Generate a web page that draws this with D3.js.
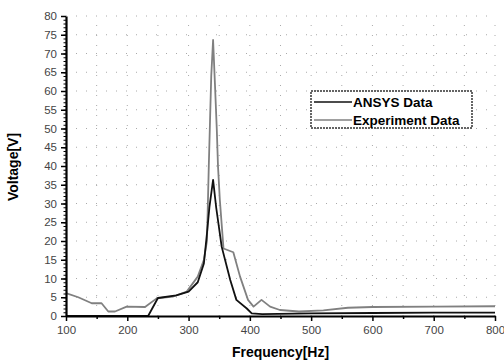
<!DOCTYPE html>
<html>
<head>
<meta charset="utf-8">
<script src="https://cdn.jsdelivr.net/npm/d3@7"></script>
<style>
  body { margin: 0; background: #fff; }
  text { font-family: "Liberation Sans", Arial, sans-serif; }
</style>
</head>
<body>
<div id="chart"></div>
<script>
// frequency / voltage readings taken off the scanned figure
const ansysFreq = [100, 234, 250, 280, 300, 315, 325, 330, 334, 340, 345, 354, 368, 378, 395, 403, 420, 500, 600, 700, 800];
const ansysVolt = [0, 0, 4.8, 5.5, 6.5, 9, 14, 22, 29, 36.3, 29, 18.5, 9.6, 4.3, 2, 0.7, 0.5, 0.7, 0.8, 0.9, 0.9];

const expFreq = [100, 120, 142, 158, 169, 180, 199, 229, 248, 275, 297, 315, 325, 330, 333, 335, 337, 340, 343, 346, 348, 351, 357, 373, 384, 397, 406, 419, 433, 449, 480, 520, 560, 600, 700, 800];
const expVolt = [6.1, 5, 3.4, 3.4, 1.2, 1.2, 2.5, 2.4, 4.7, 5.2, 6.5, 10.5, 15, 20, 40, 52, 64, 73.6, 62, 50, 40, 31, 18, 17, 10.5, 4.3, 2.5, 4.3, 2.5, 1.6, 1.2, 1.5, 2.2, 2.4, 2.5, 2.6];

const xTicks = [100, 200, 300, 400, 500, 600, 700, 800];
const yTicks = [0, 5, 10, 15, 20, 25, 30, 35, 40, 45, 50, 55, 60, 65, 70, 75, 80];
const legendNames = ["ANSYS Data", "Experiment Data"];

const width = 504, height = 361;
const margin = {top: 16, right: 9, bottom: 45, left: 66};

const svg = d3.select('#chart')
    .append('svg')
    .attr('width', width)
    .attr('height', height);

const x = d3.scaleLinear().domain([100, 800]).range([margin.left, width - margin.right]);
const y = d3.scaleLinear().domain([0, 80]).range([height - margin.bottom, margin.top]);

// faint dotted grid (scan leftovers)
const grid = svg.append('g').attr('stroke', '#aaa').attr('stroke-dasharray', '1,9').attr('stroke-width', 1);
grid.selectAll('line.h').data(d3.range(5, 81, 5)).join('line')
    .attr('x1', x(100)).attr('x2', x(800))
    .attr('y1', d => y(d)).attr('y2', d => y(d));
grid.selectAll('line.v').data(d3.range(150, 801, 50)).join('line')
    .attr('x1', d => x(d)).attr('x2', d => x(d))
    .attr('y1', y(0)).attr('y2', y(80));

// series
const line = d3.line()
    .x(d => x(d[0]))
    .y(d => y(d[1]));

svg.append('path')
    .datum(d3.zip(expFreq, expVolt))
    .attr('fill', 'none')
    .attr('stroke', '#808080')
    .attr('stroke-width', 1.8)
    .attr('stroke-linejoin', 'round')
    .attr('d', line);

svg.append('path')
    .datum(d3.zip(ansysFreq, ansysVolt))
    .attr('fill', 'none')
    .attr('stroke', '#111')
    .attr('stroke-width', 1.8)
    .attr('stroke-linejoin', 'round')
    .attr('d', line);

// minor ticks
svg.append('g')
    .attr('transform', `translate(${margin.left},0)`)
    .call(d3.axisLeft(y).tickValues(d3.range(0, 81, 1)).tickSize(2.5).tickFormat(''))
    .call(g => g.select('.domain').remove())
    .selectAll('line').attr('stroke', '#000');
svg.append('g')
    .attr('transform', `translate(0,${y(0)})`)
    .call(d3.axisBottom(x).tickValues(d3.range(150, 800, 100)).tickSize(3).tickFormat(''))
    .call(g => g.select('.domain').remove())
    .selectAll('line').attr('stroke', '#000').attr('stroke-width', 1.5);

// main axes
const yAxis = svg.append('g')
    .attr('transform', `translate(${margin.left},0)`)
    .call(d3.axisLeft(y).tickValues(yTicks).tickSize(5).tickSizeOuter(0).tickPadding(4));
const xAxis = svg.append('g')
    .attr('transform', `translate(0,${y(0)})`)
    .call(d3.axisBottom(x).tickValues(xTicks).tickSize(5).tickSizeOuter(0).tickPadding(5));

[xAxis, yAxis].forEach(g => {
    g.select('.domain').attr('stroke', '#000').attr('stroke-width', 2.2);
    g.selectAll('.tick line').attr('stroke', '#000').attr('stroke-width', 1.5);
    g.selectAll('.tick text').attr('fill', '#444').style('font-size', '11.5px');
});

// axis titles
svg.append('text')
    .attr('x', x(450)).attr('y', 357)
    .attr('text-anchor', 'middle')
    .style('font-size', '14px').style('font-weight', 'bold')
    .text('Frequency[Hz]');
svg.append('text')
    .attr('transform', `translate(18,${(y(0) + y(80)) / 2 + 1}) rotate(-90)`)
    .attr('text-anchor', 'middle')
    .style('font-size', '14px').style('font-weight', 'bold')
    .text('Voltage[V]');

// legend
const legend = svg.append('g').attr('transform', 'translate(311,91)');
legend.append('rect')
    .attr('width', 161).attr('height', 37)
    .attr('fill', '#fff')
    .attr('stroke', '#333').attr('stroke-width', 1.5).attr('stroke-dasharray', '2,1');
const legendColors = ['#111', '#808080'];
legendNames.forEach((name, i) => {
    legend.append('line')
        .attr('x1', 3).attr('x2', 41)
        .attr('y1', 11 + i * 18).attr('y2', 11 + i * 18)
        .attr('stroke', legendColors[i]).attr('stroke-width', 1.5);
    legend.append('text')
        .attr('x', 42).attr('y', 16 + i * 18)
        .style('font-size', '13.5px').style('font-weight', 'bold')
        .text(name);
});
</script>
</body>
</html>
